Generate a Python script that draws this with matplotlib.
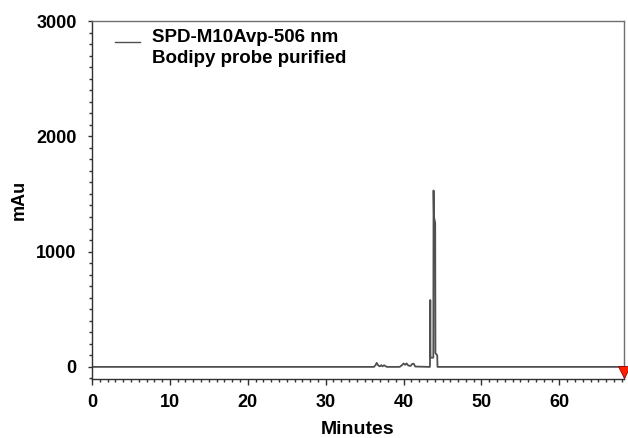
import numpy as np
import matplotlib.pyplot as plt
from matplotlib import font_manager
from matplotlib.ticker import MultipleLocator

# chromatogram trace (minutes, mAu)
minutes = [0, 36.2, 36.4, 36.55, 36.75, 36.95, 37.15, 37.3, 37.5, 37.7, 37.9, 38.2,
           39.5, 39.8, 40.0, 40.2, 40.4, 40.6, 40.9, 41.1, 41.3, 41.5, 43.3,
           43.38, 43.40, 43.43, 43.46, 43.82, 43.85, 43.90, 44.06, 44.09, 44.32, 44.36, 68.3]
mau = [0, 0, 15, 35, 12, 5, 15, 5, 14, 5, 0, 0,
       0, 15, 30, 18, 30, 12, 8, 25, 28, 3, 0,
       0, 80, 580, 80, 80, 1530, 1300, 1250, 120, 100, 0, 0]

legend_lines = ["SPD-M10Avp-506 nm", "Bodipy probe purified"]

names = {f.name for f in font_manager.fontManager.ttflist}
fam = "Liberation Sans Narrow" if "Liberation Sans Narrow" in names else "Liberation Sans"
plt.rcParams['font.family'] = [fam, 'DejaVu Sans']
plt.rcParams['font.weight'] = 'bold'

fig = plt.figure(figsize=(6.28, 4.38), dpi=100)
# axes box: x 92..624, y 21..379 in pixels
ax = fig.add_axes([92/628, 59/438, 532/628, 358/438])

ax.plot(minutes, mau, color='#505050', lw=1.3)
ax.plot([68.3], [-48], marker='v', color='#ff2000', markersize=9, clip_on=False,
        markeredgecolor='#900000', markeredgewidth=0.6, zorder=5)

ax.set_xlim(0, 68.3)
ax.set_ylim(-105, 3000)
ax.xaxis.set_major_locator(MultipleLocator(10))
ax.xaxis.set_minor_locator(MultipleLocator(1))
ax.yaxis.set_major_locator(MultipleLocator(1000))
ax.yaxis.set_minor_locator(MultipleLocator(100))
ax.tick_params(axis='x', which='major', length=4, width=1, color='#303030', labelsize=13, pad=7)
ax.tick_params(axis='x', which='minor', length=2.2, width=1, color='#303030')
ax.tick_params(axis='y', which='major', length=3, width=1, color='#303030', labelsize=13, pad=8)
ax.tick_params(axis='y', which='minor', length=2, width=1, color='#303030')
for s in ax.spines.values():
    s.set_color('#707070')
    s.set_linewidth(1)
ax.spines['bottom'].set_color('#303030')
ax.spines['left'].set_color('#303030')

ax.set_xlabel("Minutes", fontsize=14, fontweight='bold', labelpad=7)
ax.set_ylabel("mAu", fontsize=13, fontweight='bold', labelpad=6)

ax.plot([0.044, 0.09], [0.941, 0.941], transform=ax.transAxes, color='#505050', lw=1)
ax.text(0.113, 0.955, legend_lines[0], transform=ax.transAxes, fontsize=13.5,
        fontweight='bold', va='center')
ax.text(0.113, 0.896, legend_lines[1], transform=ax.transAxes, fontsize=13.5,
        fontweight='bold', va='center')

fig.savefig("out.png", dpi=100)
